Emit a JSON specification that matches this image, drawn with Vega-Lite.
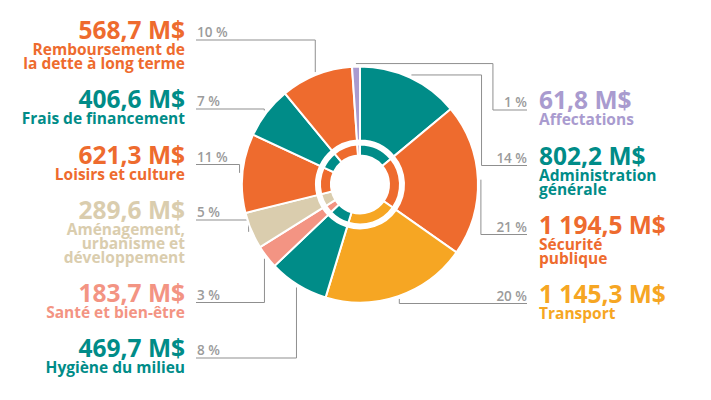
{
  "$schema": "https://vega.github.io/schema/vega-lite/v6.json",
  "width": 702,
  "height": 369,
  "padding": {"left": 9, "top": 0, "right": 0, "bottom": 31},
  "autosize": {"type": "none"},
  "background": "white",
  "config": {"view": {"stroke": null}},
  "data": {
    "values": [
      {"rank": 1, "name": "Administration|générale", "value": 802.2},
      {"rank": 2, "name": "Sécurité|publique", "value": 1194.5},
      {"rank": 3, "name": "Transport", "value": 1145.3},
      {"rank": 4, "name": "Hygiène du milieu", "value": 469.7},
      {"rank": 5, "name": "Santé et bien-être", "value": 183.7},
      {"rank": 6, "name": "Aménagement,|urbanisme et|développement", "value": 289.6},
      {"rank": 7, "name": "Loisirs et culture", "value": 621.3},
      {"rank": 8, "name": "Frais de financement", "value": 406.6},
      {"rank": 9, "name": "Remboursement de|la dette à long terme", "value": 568.7},
      {"rank": 10, "name": "Affectations", "value": 61.8}
    ]
  },
  "transform": [
    {"stack": "value", "groupby": [], "sort": [{"field": "rank", "order": "ascending"}], "offset": "normalize", "as": ["f0", "f1"]},
    {"calculate": "(datum.f0 + datum.f1) * PI", "as": "mid"},
    {"calculate": "121 * sin(datum.mid)", "as": "ax"},
    {"calculate": "121 * cos(datum.mid)", "as": "ay"},
    {"calculate": "sin(datum.mid) > -0.1 ? 'right' : 'left'", "as": "side"},
    {"calculate": "datum.side == 'right' ? 1 : -1", "as": "sgn"},
    {"calculate": "1 + (indexof(datum.name, '|') >= 0 ? 1 : 0) + (lastindexof(datum.name, '|') > indexof(datum.name, '|') ? 1 : 0)", "as": "lines"},
    {"calculate": "42 + 13.5 * datum.lines", "as": "block"},
    {"stack": "block", "groupby": ["side"], "sort": [{"field": "ay", "order": "descending"}], "as": ["b0", "b1"]},
    {"calculate": "184.5 - ((datum.side == 'right' ? 110 : 40) + datum.b0)", "as": "ly"},
    {"calculate": "abs(datum.ly) < 118 ? sqrt(118 * 118 - datum.ly * datum.ly) : 0", "as": "chord"},
    {"calculate": "abs(datum.ax) < datum.chord - 5 ? datum.sgn * (abs(datum.ay) + 12) : datum.ax", "as": "ex"},
    {"calculate": "datum.sgn == 1 ? 167 : -164", "as": "lx"},
    {"calculate": "replace(replace(format(datum.value, ',.1f'), ',', ' '), '.', ',') + ' M' + '$'", "as": "amount"},
    {"calculate": "format(round((datum.f1 - datum.f0) * 100), 'd') + ' %'", "as": "pct"}
  ],
  "layer": [
    {
      "mark": {"type": "rule", "color": "#8f8f8f", "strokeWidth": 1},
      "encoding": {
        "x": {"field": "lx", "type": "quantitative", "scale": {"domain": [-351, 351], "nice": false, "zero": false}, "axis": null},
        "x2": {"field": "ex"},
        "y": {"field": "ly", "type": "quantitative", "scale": {"domain": [-184.5, 184.5], "nice": false, "zero": false}, "axis": null}
      }
    },
    {
      "mark": {"type": "rule", "color": "#8f8f8f", "strokeWidth": 1},
      "encoding": {
        "x": {"field": "ex", "type": "quantitative"},
        "y": {"field": "ly", "type": "quantitative"},
        "y2": {"field": "ay"}
      }
    },
    {
      "mark": {"type": "rule", "color": "#8f8f8f", "strokeWidth": 1},
      "encoding": {
        "x": {"field": "ex", "type": "quantitative"},
        "x2": {"field": "ax"},
        "y": {"field": "ay", "type": "quantitative"}
      }
    },
    {
      "mark": {"type": "arc", "radius": 118, "radius2": 44, "stroke": "white", "strokeWidth": 2},
      "encoding": {
        "theta": {"field": "value", "type": "quantitative", "stack": true},
        "order": {"field": "rank", "type": "quantitative"},
        "color": {
          "field": "name", "type": "nominal", "legend": null,
          "scale": {
            "domain": ["Administration|générale", "Sécurité|publique", "Transport", "Hygiène du milieu", "Santé et bien-être", "Aménagement,|urbanisme et|développement", "Loisirs et culture", "Frais de financement", "Remboursement de|la dette à long terme", "Affectations"],
            "range": ["#008c88", "#ee6b2e", "#f6a623", "#008c88", "#f39483", "#dacdae", "#ee6b2e", "#008c88", "#ee6b2e", "#a99bcf"]
          }
        }
      }
    },
    {
      "mark": {"type": "arc", "radius": 40, "radius2": 29, "stroke": "white", "strokeWidth": 2},
      "encoding": {
        "theta": {"field": "value", "type": "quantitative", "stack": true},
        "order": {"field": "rank", "type": "quantitative"},
        "color": {"field": "name", "type": "nominal", "legend": null}
      }
    },
    {
      "transform": [{"filter": "datum.side == 'left'"}],
      "layer": [
        {
          "mark": {"type": "text", "align": "right", "baseline": "alphabetic", "dx": -175, "dy": -1, "font": "Open Sans", "fontSize": 24.5, "fontWeight": "bold"},
          "encoding": {
            "x": {"datum": 0, "type": "quantitative"},
            "y": {"field": "ly", "type": "quantitative"},
            "text": {"field": "amount"},
            "color": {"field": "name", "type": "nominal", "legend": null}
          }
        },
        {
          "mark": {"type": "text", "align": "right", "baseline": "alphabetic", "dx": -175, "dy": 15, "font": "Open Sans", "fontSize": 15.5, "fontWeight": "bold", "lineBreak": "|", "lineHeight": 14},
          "encoding": {
            "x": {"datum": 0, "type": "quantitative"},
            "y": {"field": "ly", "type": "quantitative"},
            "text": {"field": "name"},
            "color": {"field": "name", "type": "nominal", "legend": null}
          }
        },
        {
          "mark": {"type": "text", "align": "left", "baseline": "alphabetic", "dx": -163, "dy": -3, "font": "Open Sans", "fontSize": 13.5, "fontWeight": 600, "color": "#9b9b9b"},
          "encoding": {
            "x": {"datum": 0, "type": "quantitative"},
            "y": {"field": "ly", "type": "quantitative"},
            "text": {"field": "pct"}
          }
        }
      ]
    },
    {
      "transform": [{"filter": "datum.side == 'right'"}],
      "layer": [
        {
          "mark": {"type": "text", "align": "left", "baseline": "alphabetic", "dx": 179, "dy": -1, "font": "Open Sans", "fontSize": 24.5, "fontWeight": "bold"},
          "encoding": {
            "x": {"datum": 0, "type": "quantitative"},
            "y": {"field": "ly", "type": "quantitative"},
            "text": {"field": "amount"},
            "color": {"field": "name", "type": "nominal", "legend": null}
          }
        },
        {
          "mark": {"type": "text", "align": "left", "baseline": "alphabetic", "dx": 179, "dy": 15, "font": "Open Sans", "fontSize": 15.5, "fontWeight": "bold", "lineBreak": "|", "lineHeight": 14},
          "encoding": {
            "x": {"datum": 0, "type": "quantitative"},
            "y": {"field": "ly", "type": "quantitative"},
            "text": {"field": "name"},
            "color": {"field": "name", "type": "nominal", "legend": null}
          }
        },
        {
          "mark": {"type": "text", "align": "right", "baseline": "alphabetic", "dx": 167, "dy": -3, "font": "Open Sans", "fontSize": 13.5, "fontWeight": 600, "color": "#9b9b9b"},
          "encoding": {
            "x": {"datum": 0, "type": "quantitative"},
            "y": {"field": "ly", "type": "quantitative"},
            "text": {"field": "pct"}
          }
        }
      ]
    }
  ]
}
